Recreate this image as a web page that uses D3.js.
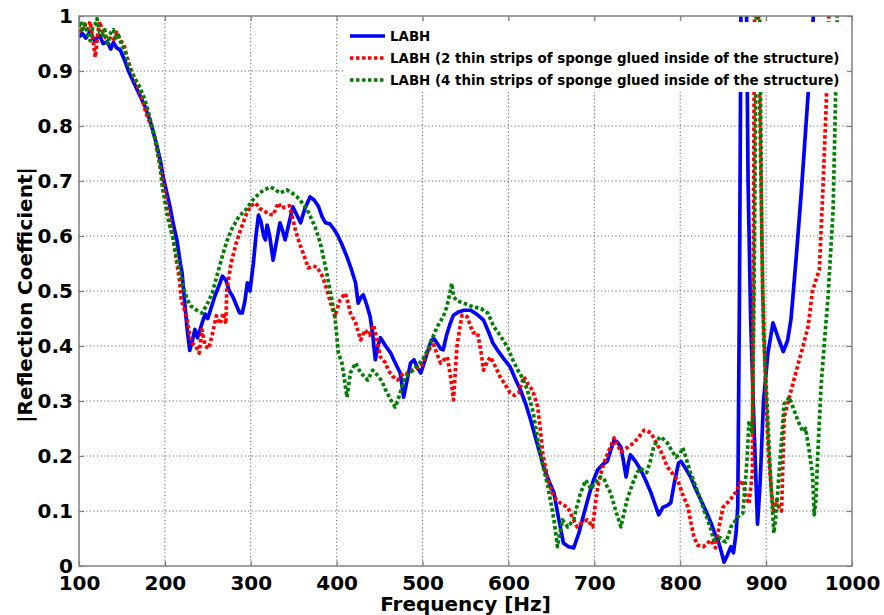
<!DOCTYPE html>
<html>
<head>
<meta charset="utf-8">
<script src="https://cdn.jsdelivr.net/npm/d3@7"></script>
<style>
  body { margin: 0; background: #fff; }
  svg { display: block; }
  text { font-family: "DejaVu Sans", sans-serif; font-weight: bold; fill: #000; }
</style>
</head>
<body>
<div id="chart"></div>
<script>
// values: [frequency Hz, |R|]
var labh = [[100,0.962],[104,0.968],[108,0.96],[113,0.972],[118,0.955],[124,0.965],[128,0.95],[133,0.953],[137,0.94],[140,0.952],[144,0.942],[148,0.938],[153,0.92],[159,0.895],[165,0.875],[171,0.855],[177,0.835],[183,0.808],[188,0.78],[191,0.762],[195,0.735],[198,0.707],[202,0.68],[206,0.653],[210,0.62],[214,0.593],[218,0.55],[220,0.533],[223,0.48],[226,0.43],[229,0.392],[232,0.41],[235,0.43],[238,0.415],[241,0.43],[244,0.445],[247,0.458],[250,0.45],[254,0.47],[258,0.49],[263,0.51],[267,0.527],[271,0.52],[275,0.5],[279,0.49],[283,0.475],[287,0.46],[290,0.46],[293,0.48],[296,0.515],[299,0.5],[303,0.55],[306,0.6],[309,0.638],[312,0.625],[315,0.6],[317,0.593],[319,0.62],[322,0.6],[326,0.556],[330,0.59],[334,0.624],[337,0.61],[340,0.593],[344,0.62],[349,0.653],[353,0.64],[358,0.624],[363,0.65],[369,0.671],[374,0.665],[379,0.653],[383,0.635],[387,0.624],[392,0.622],[397,0.612],[401,0.602],[406,0.585],[412,0.562],[417,0.54],[422,0.515],[425,0.478],[428,0.488],[431,0.493],[435,0.475],[439,0.453],[442,0.42],[445,0.375],[448,0.4],[451,0.415],[457,0.4],[463,0.387],[468,0.37],[474,0.351],[478,0.307],[481,0.33],[486,0.369],[490,0.375],[494,0.36],[498,0.351],[502,0.37],[506,0.39],[510,0.41],[513,0.414],[517,0.405],[521,0.395],[524,0.393],[528,0.42],[532,0.44],[536,0.456],[542,0.462],[548,0.465],[556,0.465],[563,0.458],[571,0.447],[577,0.425],[582,0.405],[587,0.393],[594,0.378],[602,0.362],[608,0.34],[614,0.32],[620,0.295],[626,0.265],[633,0.225],[641,0.18],[647,0.155],[653,0.133],[658,0.09],[664,0.042],[670,0.035],[676,0.033],[682,0.06],[688,0.096],[694,0.13],[699,0.156],[704,0.175],[710,0.185],[715,0.19],[719,0.21],[723,0.229],[727,0.225],[731,0.216],[734,0.19],[737,0.162],[740,0.19],[742,0.202],[748,0.19],[754,0.175],[760,0.155],[766,0.133],[770,0.115],[775,0.093],[780,0.107],[785,0.11],[789,0.115],[793,0.15],[798,0.187],[801,0.19],[806,0.178],[812,0.162],[818,0.14],[824,0.12],[830,0.1],[836,0.078],[840,0.06],[844,0.047],[848,0.025],[851,0.007],[855,0.02],[859,0.035],[862,0.024],[865,0.06],[867,0.107],[869,0.5],[871,1.1],[874,1.15],[877,1.05],[879,0.7],[882,0.45],[886,0.25],[890,0.076],[893,0.15],[897,0.3],[902,0.386],[908,0.442],[914,0.415],[920,0.39],[925,0.41],[929,0.449],[935,0.56],[941,0.68],[945,0.77],[949,0.86],[955,1.0],[958,1.1]];

var twoStrips = [[100,0.975],[103,0.97],[106,0.985],[110,0.975],[113,0.99],[116,0.96],[119,0.925],[122,0.97],[124,0.99],[127,0.975],[131,0.96],[136,0.96],[140,0.955],[144,0.97],[148,0.955],[152,0.95],[156,0.925],[160,0.905],[165,0.885],[170,0.865],[175,0.84],[179,0.82],[184,0.8],[188,0.78],[192,0.745],[196,0.715],[200,0.68],[204,0.645],[208,0.61],[212,0.57],[217,0.52],[219,0.485],[222,0.47],[225,0.455],[229,0.42],[232,0.405],[236,0.4],[240,0.387],[243,0.43],[247,0.4],[251,0.395],[255,0.42],[260,0.455],[264,0.44],[268,0.46],[271,0.44],[272,0.5],[277,0.55],[283,0.587],[289,0.615],[295,0.64],[300,0.655],[306,0.66],[310,0.65],[315,0.647],[320,0.64],[326,0.638],[332,0.66],[336,0.65],[340,0.653],[345,0.655],[349,0.63],[352,0.611],[357,0.585],[361,0.569],[367,0.542],[372,0.545],[377,0.544],[384,0.525],[389,0.5],[393,0.478],[398,0.453],[401,0.47],[404,0.484],[410,0.496],[413,0.48],[416,0.46],[422,0.442],[428,0.411],[433,0.429],[438,0.42],[443,0.438],[447,0.41],[451,0.38],[457,0.369],[460,0.356],[465,0.345],[471,0.338],[478,0.351],[483,0.35],[488,0.356],[493,0.36],[498,0.362],[505,0.387],[510,0.4],[513,0.402],[517,0.385],[521,0.369],[525,0.375],[529,0.38],[533,0.34],[536,0.302],[540,0.398],[543,0.43],[546,0.456],[552,0.453],[556,0.435],[559,0.424],[564,0.424],[568,0.39],[571,0.356],[575,0.37],[579,0.38],[585,0.362],[590,0.345],[596,0.33],[602,0.315],[607,0.31],[612,0.315],[615,0.33],[618,0.344],[623,0.33],[628,0.32],[634,0.29],[637,0.25],[640,0.205],[646,0.156],[653,0.125],[660,0.115],[665,0.11],[669,0.107],[674,0.09],[680,0.071],[686,0.08],[692,0.084],[698,0.071],[701,0.11],[704,0.144],[708,0.17],[711,0.187],[717,0.21],[723,0.233],[727,0.22],[731,0.207],[735,0.212],[739,0.216],[746,0.224],[752,0.235],[758,0.247],[762,0.245],[766,0.242],[770,0.23],[775,0.216],[780,0.2],[785,0.18],[791,0.168],[797,0.156],[803,0.13],[809,0.107],[813,0.075],[816,0.053],[820,0.038],[827,0.035],[832,0.042],[836,0.047],[841,0.033],[845,0.07],[850,0.107],[855,0.115],[859,0.122],[865,0.135],[871,0.156],[873,0.151],[877,0.125],[880,0.113],[884,0.17],[886,0.86],[887,1.1],[890,1.1],[893,0.8],[896,0.5],[900,0.3],[903,0.2],[906,0.138],[909,0.096],[912,0.12],[915,0.107],[918,0.1],[921,0.27],[925,0.295],[931,0.33],[937,0.365],[943,0.4],[949,0.436],[954,0.5],[958,0.52],[962,0.538],[966,0.68],[970,0.84],[973,1.0],[975,1.1]];

var fourStrips = [[100,0.98],[102,0.99],[104,0.975],[107,0.985],[110,0.97],[113,0.955],[116,0.98],[119,0.985],[121,0.995],[124,0.97],[127,0.965],[130,0.975],[133,0.95],[137,0.97],[140,0.975],[143,0.96],[146,0.965],[150,0.945],[153,0.94],[158,0.909],[164,0.89],[170,0.873],[175,0.855],[179,0.836],[185,0.8],[189,0.775],[193,0.745],[197,0.69],[203,0.636],[207,0.61],[211,0.587],[217,0.54],[222,0.504],[226,0.485],[230,0.473],[237,0.465],[243,0.46],[249,0.475],[255,0.496],[261,0.53],[267,0.564],[272,0.59],[278,0.613],[286,0.635],[295,0.649],[302,0.665],[310,0.678],[316,0.684],[323,0.689],[328,0.685],[334,0.678],[342,0.684],[348,0.678],[354,0.671],[360,0.66],[366,0.647],[371,0.63],[375,0.616],[381,0.587],[387,0.544],[393,0.496],[398,0.453],[402,0.387],[406,0.37],[409,0.34],[412,0.307],[416,0.351],[422,0.369],[428,0.351],[432,0.345],[436,0.338],[442,0.356],[449,0.344],[453,0.335],[457,0.32],[463,0.302],[468,0.289],[471,0.3],[474,0.315],[480,0.344],[489,0.356],[500,0.375],[505,0.39],[509,0.405],[513,0.42],[517,0.435],[524,0.453],[528,0.47],[531,0.49],[534,0.514],[536,0.49],[540,0.482],[548,0.478],[559,0.471],[568,0.468],[576,0.46],[583,0.435],[590,0.42],[599,0.398],[605,0.375],[611,0.356],[617,0.34],[622,0.32],[629,0.278],[633,0.24],[637,0.205],[642,0.17],[646,0.144],[650,0.11],[653,0.084],[657,0.035],[660,0.06],[663,0.084],[669,0.071],[676,0.084],[680,0.11],[684,0.133],[690,0.156],[696,0.14],[700,0.15],[704,0.156],[707,0.162],[711,0.16],[715,0.144],[719,0.133],[725,0.1],[731,0.071],[735,0.1],[739,0.125],[746,0.156],[750,0.17],[754,0.178],[758,0.172],[761,0.17],[765,0.19],[769,0.216],[773,0.228],[777,0.235],[781,0.23],[785,0.224],[790,0.21],[795,0.198],[800,0.205],[803,0.215],[807,0.195],[812,0.169],[818,0.145],[824,0.12],[828,0.1],[832,0.084],[836,0.065],[839,0.047],[843,0.05],[847,0.051],[850,0.046],[853,0.044],[856,0.055],[859,0.071],[863,0.08],[867,0.089],[870,0.093],[873,0.096],[876,0.156],[878,0.198],[880,0.264],[882,0.25],[884,0.24],[886,0.5],[888,0.87],[889,1.1],[892,1.1],[895,0.6],[897,0.42],[901,0.3],[905,0.167],[909,0.06],[912,0.1],[915,0.167],[918,0.23],[921,0.295],[924,0.3],[927,0.307],[931,0.29],[937,0.264],[943,0.244],[946,0.25],[950,0.211],[954,0.167],[956,0.093],[958,0.12],[960,0.198],[964,0.327],[968,0.41],[972,0.487],[978,0.647],[981,0.86],[984,1.1]];

var seriesNames = ["LABH",
  "LABH (2 thin strips of sponge glued inside of the structure)",
  "LABH (4 thin strips of sponge glued inside of the structure)"];
var xTicks = [100, 200, 300, 400, 500, 600, 700, 800, 900, 1000];
var yTicks = [0, 0.1, 0.2, 0.3, 0.4, 0.5, 0.6, 0.7, 0.8, 0.9, 1];

//layout (plot box edges in px)
var W = 884, H = 615;
var pLeft = 79, pRight = 852, pTop = 16, pBottom = 566;

var svg = d3.select("#chart").append("svg")
  .attr("width", W).attr("height", H);

var x = d3.scaleLinear().domain([100, 1000]).range([pLeft, pRight]);
var y = d3.scaleLinear().domain([0, 1]).range([pBottom, pTop]);

//dotted grid
var grid = svg.append("g").attr("stroke", "#6e6e6e").attr("stroke-width", 1.1)
  .attr("stroke-dasharray", "1.2,2.4");
grid.selectAll(".gx").data(xTicks.slice(1, -1)).enter().append("line")
  .attr("x1", d => x(d)).attr("x2", d => x(d)).attr("y1", pTop).attr("y2", pBottom);
grid.selectAll(".gy").data(yTicks.slice(1, -1)).enter().append("line")
  .attr("y1", d => y(d)).attr("y2", d => y(d)).attr("x1", pLeft).attr("x2", pRight);

//curves, clipped to the axes box
svg.append("clipPath").attr("id", "plotclip").append("rect")
  .attr("x", pLeft).attr("y", pTop).attr("width", pRight - pLeft).attr("height", pBottom - pTop);

var line = d3.line().x(d => x(d[0])).y(d => y(d[1]));
var styles = [
  { data: labh, color: "#0000ff", dash: null },
  { data: twoStrips, color: "#ff0000", dash: "3.5,2.5" },
  { data: fourStrips, color: "#008000", dash: "3.5,2.5" }
];
var curves = svg.append("g").attr("clip-path", "url(#plotclip)");
styles.forEach(function(s) {
  curves.append("path")
    .datum(s.data)
    .attr("d", line)
    .attr("fill", "none")
    .attr("stroke", s.color)
    .attr("stroke-width", 3.7)
    .attr("stroke-linejoin", "round")
    .attr("stroke-dasharray", s.dash);
});

//legend (white box hides grid and curves behind it)
var legend = svg.append("g");
legend.append("rect").attr("x", 345).attr("y", 22).attr("width", 505).attr("height", 70)
  .attr("fill", "#fff");
styles.forEach(function(s, i) {
  var ly = 36 + i * 22;
  legend.append("line").attr("x1", 350).attr("x2", 385).attr("y1", ly).attr("y2", ly)
    .attr("stroke", s.color).attr("stroke-width", 3.7).attr("stroke-dasharray", s.dash);
  legend.append("text").attr("x", 390).attr("y", ly + 5)
    .style("font-size", "13.4px").text(seriesNames[i]);
});

//axes box with inward ticks
var axisColor = "#808080";
function styleAxis(g) {
  g.select(".domain").remove();
  g.selectAll(".tick line").attr("stroke", axisColor).attr("stroke-width", 1.2);
}
svg.append("g").attr("transform", "translate(0," + pBottom + ")")
  .call(d3.axisBottom(x).tickValues(xTicks).tickSize(-5).tickFormat(d3.format("d")))
  .call(styleAxis)
  .call(g => g.selectAll("text").attr("y", 24).attr("dy", 0).style("font-size", "20px"));
svg.append("g").attr("transform", "translate(0," + pTop + ")")
  .call(d3.axisTop(x).tickValues(xTicks).tickSize(-5).tickFormat(""))
  .call(styleAxis);
svg.append("g").attr("transform", "translate(" + pLeft + ",0)")
  .call(d3.axisLeft(y).tickValues(yTicks).tickSize(-5).tickPadding(6)
    .tickFormat(d => d === 0 || d === 1 ? d3.format("d")(d) : d3.format(".1f")(d)))
  .call(styleAxis)
  .call(g => g.selectAll("text").style("font-size", "20px"));
svg.append("g").attr("transform", "translate(" + pRight + ",0)")
  .call(d3.axisRight(y).tickValues(yTicks).tickSize(-5).tickFormat(""))
  .call(styleAxis);
svg.selectAll(".tick text").attr("fill", "#000").style("font-family", "'DejaVu Sans', sans-serif")
  .style("font-weight", "bold");

svg.append("rect").attr("x", pLeft).attr("y", pTop).attr("width", pRight - pLeft).attr("height", pBottom - pTop)
  .attr("fill", "none").attr("stroke", axisColor).attr("stroke-width", 1.5);

//axis titles
svg.append("text").attr("x", (pLeft + pRight) / 2).attr("y", 611).attr("text-anchor", "middle")
  .style("font-size", "20px").text("Frequency [Hz]");
svg.append("text").attr("transform", "translate(32,295) rotate(-90)").attr("text-anchor", "middle")
  .style("font-size", "20px").text("|Reflection Coefficient|");
</script>
</body>
</html>
